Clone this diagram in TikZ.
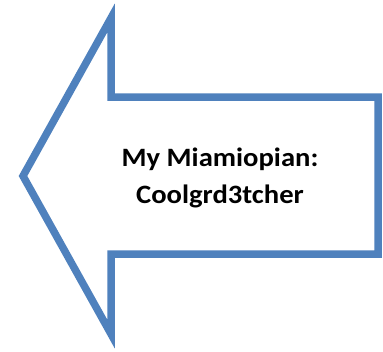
\documentclass[tikz,border=0pt]{standalone}
\usepackage{fontspec}
\setmainfont{Carlito}[FakeStretch=1.08]
\definecolor{arrowblue}{HTML}{4F81BD}
\tikzset{arrowline/.style={draw=arrowblue, line width=7.5pt, line join=miter, fill=white},
  label/.style={align=center, font=\fontsize{26.5}{37}\selectfont\bfseries, text=black, inner sep=0pt}}
\begin{document}
\begin{tikzpicture}[x=1pt,y=-1pt]
\useasboundingbox (0,0) rectangle (383,351);
\draw[arrowline] (23,176) -- (111,18) -- (111,97) -- (378,97) -- (378,254) -- (111,254) -- (111,334) -- cycle;
\node[label] (txt) at (220,178) {My Miamiopian:\\Coolgrd3tcher};
\end{tikzpicture}
\end{document}
